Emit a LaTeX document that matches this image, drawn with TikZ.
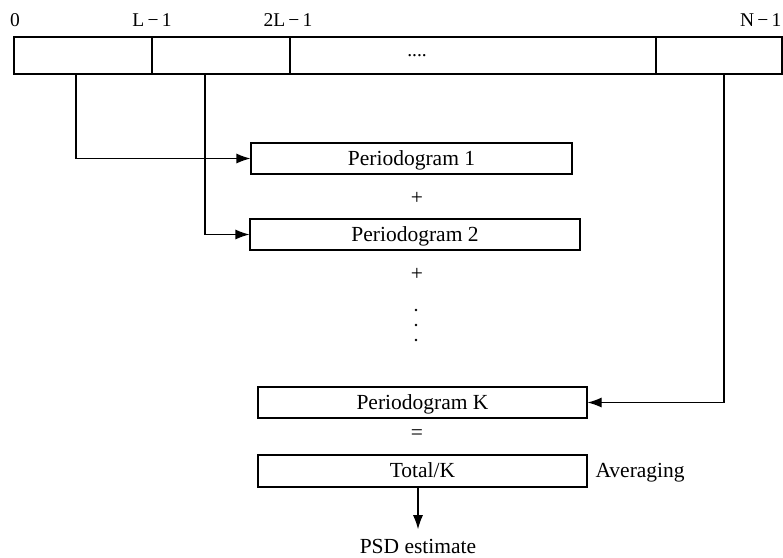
\documentclass[tikz,border=0pt]{standalone}
\usepackage{fontspec}
\setmainfont{Liberation Serif}
\usetikzlibrary{arrows.meta,calc}
\begin{document}
\begin{tikzpicture}[x=1pt,y=-1pt,
  line width=1.1pt,
  seg/.style={draw,minimum height=37pt,inner sep=0pt,anchor=center},
  pbox/.style={draw,minimum height=31pt,inner sep=0pt,text height=16pt,text depth=3pt,font=\fontsize{21.5}{24}\selectfont},
  lbl/.style={inner sep=0pt,font=\fontsize{19.5}{22}\selectfont},
  txt/.style={inner sep=0pt,font=\fontsize{21.5}{24}\selectfont},
  arr/.style={-{Latex[length=14pt,width=10pt]}}]
\useasboundingbox (0,0) rectangle (783,557);
% top bar
\node[seg,minimum width=138pt] (s1) at (83,55.5) {};
\node[seg,minimum width=138pt] (s2) at (221,55.5) {};
\node[seg,minimum width=366pt] (s3) at (473,55.5) {};
\node[seg,minimum width=126pt] (s4) at (719,55.5) {};
\node[lbl] (dots) at (417,56) {....};
% top labels
\node[lbl] (l0) at (15,20) {0};
\node[lbl] (l1) at (152,20) {L\,\textminus\,1};
\node[lbl] (l2) at (288,20) {2L\,\textminus\,1};
\node[lbl,anchor=east] (l3) at (782,20) {N\,\textminus\,1};
% periodogram boxes
\node[pbox,minimum width=321pt] (p1) at (411.5,158.5) {Periodogram 1};
\node[pbox,minimum width=330pt] (p2) at (415,234.5) {Periodogram 2};
\node[pbox,minimum width=329pt] (pk) at (422.5,402.5) {Periodogram K};
\node[pbox,minimum width=329pt,minimum height=32pt] (tk) at (422.5,471) {Total/K};
% operators
\node[txt] (plus1) at (417,198) {+};
\node[txt] (plus2) at (417,274) {+};
\fill (416,310) circle (1.3pt) (416,325) circle (1.3pt) (416,340) circle (1.3pt);
\node[txt] (eq) at (417,435) {=};
\node[txt,anchor=west] (avg) at (595,473) {Averaging};
\node[txt] (psd) at (418,546) {PSD estimate};
% connectors
\draw[arr] ([xshift=-7pt]s1.south) |- (p1.west);
\draw[arr] ([xshift=-16pt]s2.south) |- (p2.west);
\draw[arr] ([xshift=5pt]s4.south) |- (pk.east);
\draw[arr] (tk.south -| psd.north) -- ([yshift=9pt]psd.north);
\end{tikzpicture}
\end{document}
